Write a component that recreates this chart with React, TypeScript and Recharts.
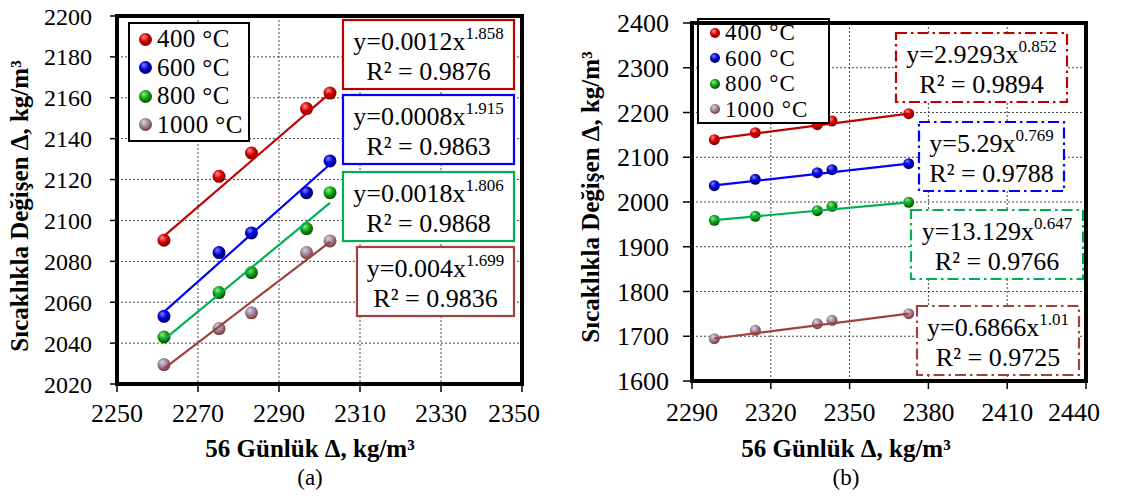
import { ScatterChart, Scatter, XAxis, YAxis, CartesianGrid, Legend } from 'recharts';

// series names and colours
const names = ['400 °C', '600 °C', '800 °C', '1000 °C'];
const lineColors = ['#c00000', '#0000ff', '#00b050', '#a0413c'];
const spheres = [
  { id: 's400', hi: '#ff9090', mid: '#d40000', lo: '#780000' },
  { id: 's600', hi: '#8080ff', mid: '#0000cc', lo: '#000060' },
  { id: 's800', hi: '#90f090', mid: '#10a010', lo: '#004c00' },
  { id: 's1000', hi: '#dcd4ec', mid: '#9c8494', lo: '#7a3434' },
];

// (a) readings
const xA = [2261.6, 2275.2, 2283.2, 2296.8, 2302.6];
const yA400 = [2090.3, 2121.6, 2133.0, 2154.7, 2162.3];
const yA600 = [2053.1, 2084.3, 2093.9, 2113.6, 2129.1];
const yA800 = [2043.0, 2064.7, 2074.5, 2096.0, 2113.6];
const yA1000 = [2029.5, 2047.1, 2054.8, 2084.3, 2090.0];
const trendAX = [2261.6, 2302.6];
const trendA400 = [2092.3, 2162.3];
const trendA600 = [2055.3, 2127.5];
const trendA800 = [2041.7, 2108.6];
const trendA1000 = [2027.5, 2089.5];
const ticksAX = [2250, 2270, 2290, 2310, 2330, 2350];
const ticksAY = [2020, 2040, 2060, 2080, 2100, 2120, 2140, 2160, 2180, 2200];
const eqA = ['y=0.0012x', 'y=0.0008x', 'y=0.0018x', 'y=0.004x'];
const expA = ['1.858', '1.915', '1.806', '1.699'];
const r2A = ['0.9876', '0.9863', '0.9868', '0.9836'];

// (b) readings
const xB = [2298.5, 2314.1, 2337.7, 2343.3, 2372.5];
const yB400 = [2139.3, 2154.9, 2172.8, 2181.0, 2197.4];
const yB600 = [2036.5, 2050.7, 2065.6, 2072.3, 2085.7];
const yB800 = [1959.0, 1968.0, 1980.6, 1990.3, 1999.3];
const yB1000 = [1694.6, 1713.2, 1728.1, 1735.6, 1750.5];
const trendBX = [2298.5, 2372.5];
const trendB400 = [2141.0, 2197.4];
const trendB600 = [2037.2, 2085.7];
const trendB800 = [1959.5, 1999.3];
const trendB1000 = [1695.0, 1750.5];
const ticksBX = [2290, 2320, 2350, 2380, 2410, 2440];
const ticksBY = [1600, 1700, 1800, 1900, 2000, 2100, 2200, 2300, 2400];
const eqB = ['y=2.9293x', 'y=5.29x', 'y=13.129x', 'y=0.6866x'];
const expB = ['0.852', '0.769', '0.647', '1.01'];
const r2B = ['0.9894', '0.9788', '0.9766', '0.9725'];

const FONT = 'Liberation Serif, Tinos, DejaVu Serif, Times New Roman, serif';

const pts = (xs: number[], ys: number[]) => xs.map((x, i) => ({ x, y: ys[i] }));

const sphere = (id: string, r: number) => (props: any) => (
  <circle cx={props.cx} cy={props.cy} r={r} fill={`url(#${id})`} />
);
const noDot = () => <g />;

type LegendOpts = { size: number; rowH: number; r: number; padV: number; padL: number; padR: number; spacing: number };

function LegendBox({ size, rowH, r, padV, padL, padR, spacing }: LegendOpts) {
  return (
    <div style={{ border: '2.5px solid #000', background: '#fff', padding: `${padV}px ${padR}px ${padV}px ${padL}px`, fontFamily: FONT }}>
      {names.map((n, i) => (
        <div key={n} style={{ display: 'flex', alignItems: 'center', height: rowH, fontSize: size, lineHeight: `${rowH}px`, whiteSpace: 'nowrap', letterSpacing: spacing }}>
          <svg width={r * 2 + 2} height={r * 2 + 2} style={{ marginRight: 4 }}>
            <circle cx={r + 1} cy={r + 1} r={r} fill={`url(#${spheres[i].id})`} />
          </svg>
          <span>{n}</span>
        </div>
      ))}
    </div>
  );
}

type PanelProps = {
  left: number;
  width: number;
  yWidth: number;
  margin: { top: number; right: number; left: number; bottom: number };
  xs: number[];
  ys: number[][];
  tx: number[];
  trends: number[][];
  ticksX: number[];
  ticksY: number[];
  r: number;
  legendPos: { left: number; top: number };
  legend: LegendOpts;
  yTickSize: number;
  yTickMargin: number;
  yFont: number;
  xTickMargin: number;
};

function Panel(p: PanelProps) {
  return (
    <div style={{ position: 'absolute', left: p.left, top: 0 }}>
      <ScatterChart width={p.width} height={499} margin={p.margin}>
        <CartesianGrid stroke="#444" strokeDasharray="2 2" strokeWidth={1} />
        <XAxis
          type="number"
          dataKey="x"
          domain={[p.ticksX[0], p.ticksX[p.ticksX.length - 1]]}
          ticks={p.ticksX}
          allowDataOverflow
          height={40}
          tickSize={8}
          tickMargin={p.xTickMargin}
          tickLine={{ stroke: '#000', strokeWidth: 1.5 }}
          axisLine={{ stroke: '#000' }}
          tick={{ fill: '#000', fontSize: 26, fontFamily: FONT }}
        />
        <YAxis
          type="number"
          dataKey="y"
          domain={[p.ticksY[0], p.ticksY[p.ticksY.length - 1]]}
          ticks={p.ticksY}
          allowDataOverflow
          width={p.yWidth}
          tickSize={p.yTickSize}
          tickMargin={p.yTickMargin}
          tickLine={{ stroke: '#000', strokeWidth: 1.5 }}
          axisLine={{ stroke: '#000' }}
          tick={{ fill: '#000', fontSize: p.yFont, fontFamily: FONT }}
        />
        <Legend
          layout="vertical"
          align="center"
          verticalAlign="middle"
          wrapperStyle={{ left: p.legendPos.left, top: p.legendPos.top, width: 'auto', height: 'auto' }}
          content={() => <LegendBox {...p.legend} />}
        />
        {p.ys.map((ys, i) => (
          <Scatter
            key={names[i]}
            name={names[i]}
            data={pts(p.xs, ys)}
            shape={sphere(spheres[i].id, p.r)}
            isAnimationActive={false}
          />
        ))}
        {p.trends.map((t, i) => (
          <Scatter
            key={'t' + i}
            data={pts(p.tx, t)}
            line={{ stroke: lineColors[i], strokeWidth: 2.2 }}
            shape={noDot}
            legendType="none"
            isAnimationActive={false}
          />
        ))}
      </ScatterChart>
    </div>
  );
}

function EqBox({ x, y, w, color, eq, exp, r2, dashed }: { x: number; y: number; w: number; color: string; eq: string; exp: string; r2: string; dashed: boolean }) {
  const cx = x + w / 2;
  return (
    <g>
      <rect x={x} y={y} width={w} height={69} fill="#fff" stroke={color} strokeWidth={2.2} strokeDasharray={dashed ? '11 4 2.5 4' : undefined} />
      <text x={cx} y={y + 30} textAnchor="middle" fontSize={26} fontFamily={FONT} fill="#000">
        {eq}
        <tspan fontSize={17} dy={-11}>{exp}</tspan>
      </text>
      <text x={cx} y={y + 60} textAnchor="middle" fontSize={26} fontFamily={FONT} fill="#000">
        {'R² = ' + r2}
      </text>
    </g>
  );
}

const boxesA = [
  { x: 343, y: 20, w: 171 },
  { x: 343, y: 95, w: 171 },
  { x: 343, y: 172, w: 171 },
  { x: 357, y: 247, w: 157 },
];
const boxesB = [
  { x: 896, y: 33, w: 171 },
  { x: 919, y: 122, w: 145 },
  { x: 911, y: 210, w: 172 },
  { x: 917, y: 306, w: 162 },
];

export default function App() {
  return (
    <div style={{ position: 'absolute', left: 0, top: 0, width: 1123, height: 499, background: '#fff', overflow: 'hidden' }}>
      <svg width={0} height={0} style={{ position: 'absolute' }}>
        <defs>
          {spheres.map((s) => (
            <radialGradient key={s.id} id={s.id} cx="45%" cy="40%" r="60%" fx="35%" fy="30%">
              <stop offset="0%" stopColor={s.hi} />
              <stop offset="55%" stopColor={s.mid} />
              <stop offset="100%" stopColor={s.lo} />
            </radialGradient>
          ))}
        </defs>
      </svg>
      <Panel
        left={0}
        width={540}
        yWidth={117}
        margin={{ top: 16, right: 18, left: 0, bottom: 75 }}
        xs={xA}
        ys={[yA400, yA600, yA800, yA1000]}
        tx={trendAX}
        trends={[trendA400, trendA600, trendA800, trendA1000]}
        ticksX={ticksAX}
        ticksY={ticksAY}
        r={6.5}
        legendPos={{ left: 128, top: 22 }}
        legend={{ size: 25, rowH: 28.5, r: 6.5, padV: 1, padL: 8, padR: 5, spacing: 0.4 }}
        yTickSize={7}
        yTickMargin={18}
        yFont={24}
        xTickMargin={12}
      />
      <Panel
        left={560}
        width={540}
        yWidth={132}
        margin={{ top: 23, right: 14, left: 0, bottom: 78 }}
        xs={xB}
        ys={[yB400, yB600, yB800, yB1000]}
        tx={trendBX}
        trends={[trendB400, trendB600, trendB800, trendB1000]}
        ticksX={ticksBX}
        ticksY={ticksBY}
        r={5.5}
        legendPos={{ left: 137, top: 18 }}
        legend={{ size: 23, rowH: 25.5, r: 5, padV: 0, padL: 10, padR: 20, spacing: 1 }}
        yTickSize={9}
        yTickMargin={14}
        yFont={26}
        xTickMargin={14}
      />
      <svg width={1123} height={499} style={{ position: 'absolute', left: 0, top: 0, pointerEvents: 'none' }}>
        <rect x={117} y={16} width={405} height={368} fill="none" stroke="#000" strokeWidth={4} />
        <rect x={692} y={23} width={394} height={358} fill="none" stroke="#000" strokeWidth={4} />
        {boxesA.map((b, i) => (
          <EqBox key={'a' + i} {...b} color={lineColors[i]} eq={eqA[i]} exp={expA[i]} r2={r2A[i]} dashed={false} />
        ))}
        {boxesB.map((b, i) => (
          <EqBox key={'b' + i} {...b} color={lineColors[i]} eq={eqB[i]} exp={expB[i]} r2={r2B[i]} dashed />
        ))}
        <text transform="translate(19,206) rotate(-90)" textAnchor="middle" dominantBaseline="central" fontSize={25} fontWeight="bold" fontFamily={FONT}>
          Sıcaklıkla Değişen Δ, kg/m³
        </text>
        <text transform="translate(590,197) rotate(-90)" textAnchor="middle" dominantBaseline="central" fontSize={25} fontWeight="bold" fontFamily={FONT}>
          Sıcaklıkla Değişen Δ, kg/m³
        </text>
        <text x={310} y={457} textAnchor="middle" fontSize={25} fontWeight="bold" fontFamily={FONT}>56 Günlük Δ, kg/m³</text>
        <text x={846} y={457} textAnchor="middle" fontSize={25} fontWeight="bold" fontFamily={FONT}>56 Günlük Δ, kg/m³</text>
        <text x={310} y={485} textAnchor="middle" fontSize={23} fontFamily={FONT}>(a)</text>
        <text x={846} y={485} textAnchor="middle" fontSize={23} fontFamily={FONT}>(b)</text>
      </svg>
    </div>
  );
}
